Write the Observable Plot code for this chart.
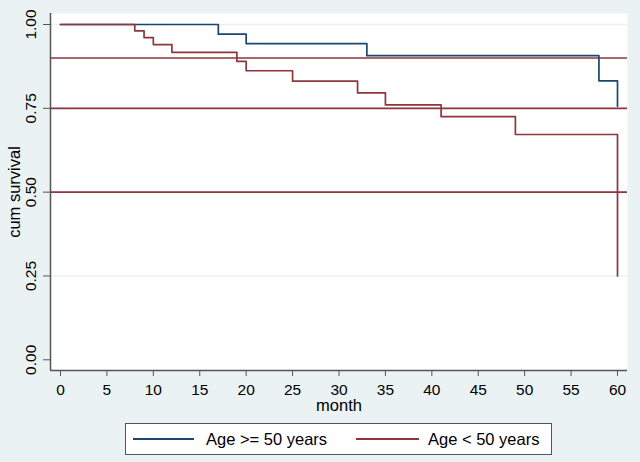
<!DOCTYPE html>
<html>
<head>
<meta charset="utf-8">
<script src="https://cdn.jsdelivr.net/npm/d3@7"></script>
<script src="https://cdn.jsdelivr.net/npm/@observablehq/plot@0.6"></script>
<style>
  html, body { margin: 0; padding: 0; background: #eaf2f3; }
  #fig { position: relative; width: 640px; height: 462px; background: #eaf2f3; font-family: "Liberation Sans", Arial, sans-serif; }
  #legend { position: absolute; left: 125px; top: 423px; width: 425px; height: 30px; background: #fff; border: 1px solid #555; }
  .sw { position: absolute; top: 14px; height: 2px; }
  .lt { position: absolute; top: 5px; font-size: 16.5px; line-height: 20px; color: #000; white-space: nowrap; }
</style>
</head>
<body>
<div id="fig">
  <div id="chart"></div>
  <div id="legend"></div>
</div>
<script>
// Data
const oldMonths = [0, 17, 20, 33, 58, 60];
const oldSurvival = [1.0, 0.971, 0.943, 0.907, 0.832, 0.756];
const youngMonths = [0, 8, 9, 10, 12, 19, 20, 25, 32, 35, 41, 49, 60];
const youngSurvival = [1.0, 0.981, 0.961, 0.940, 0.917, 0.890, 0.862, 0.831, 0.796, 0.760, 0.725, 0.672, 0.25];
const seriesNames = ["Age >= 50 years", "Age < 50 years"];
const seriesColors = ["#1a476f", "#90353b"];
const refLines = [0.9, 0.75, 0.5];
const xTicks = [0, 5, 10, 15, 20, 25, 30, 35, 40, 45, 50, 55, 60];
const yTicks = [0, 0.25, 0.5, 0.75, 1];
const gridLines = [0.25, 0.5, 0.75, 1];

const oldData = oldMonths.map((t, i) => ({t, s: oldSurvival[i]}));
const youngData = youngMonths.map((t, i) => ({t, s: youngSurvival[i]}));

const chart = Plot.plot({
  width: 640,
  height: 416,
  marginLeft: 50,
  marginRight: 13,
  marginTop: 13,
  marginBottom: 46,
  style: {fontFamily: "Liberation Sans, Arial, sans-serif", background: "transparent"},
  x: {domain: [0, 60], inset: 10},
  y: {domain: [0, 1], insetTop: 11, insetBottom: 10.7},
  marks: [
    Plot.frame({fill: "white", stroke: null}),
    Plot.ruleY(gridLines, {stroke: "#eaf2f3", strokeWidth: 1.5}),
    Plot.ruleY(refLines, {stroke: seriesColors[1], strokeWidth: 1.6}),
    Plot.line(oldData, {x: "t", y: "s", curve: "step-after", stroke: seriesColors[0], strokeWidth: 1.7}),
    Plot.line(youngData, {x: "t", y: "s", curve: "step-after", stroke: seriesColors[1], strokeWidth: 1.7}),
    Plot.ruleX([0], {dx: -10, stroke: "#555", strokeWidth: 1.5}),
    Plot.ruleY([0], {dy: 10.7, stroke: "#555", strokeWidth: 1.5}),
    Plot.axisX({ticks: xTicks, tickSize: 6, tickPadding: 7, fontSize: 15.5, stroke: "#555", fill: "black", label: null}),
    Plot.axisY({ticks: yTicks, tickSize: 7, tickFormat: () => "", stroke: "#555", label: null}),
    Plot.text(yTicks, {y: d => d, text: d => d.toFixed(2), frameAnchor: "left", dx: -19, rotate: -90, fontSize: 15.5, textAnchor: "middle", lineAnchor: "middle", fill: "black"}),
    Plot.text(["cum survival"], {text: d => d, frameAnchor: "left", dx: -36, rotate: -90, fontSize: 16.5, textAnchor: "middle", lineAnchor: "middle", fill: "black"}),
    Plot.text(["month"], {text: d => d, frameAnchor: "bottom", dy: 35, fontSize: 16.5, textAnchor: "middle", lineAnchor: "middle", fill: "black"})
  ]
});
document.getElementById("chart").appendChild(chart);

const legend = document.getElementById("legend");
const swLeft = [7, 230];
const swWidth = [61, 63];
const txtLeft = [80, 302];
seriesNames.forEach((name, i) => {
  const sw = document.createElement("div");
  sw.className = "sw";
  sw.style.left = swLeft[i] + "px";
  sw.style.width = swWidth[i] + "px";
  sw.style.background = seriesColors[i];
  legend.appendChild(sw);
  const tx = document.createElement("div");
  tx.className = "lt";
  tx.style.left = txtLeft[i] + "px";
  tx.textContent = name;
  legend.appendChild(tx);
});
</script>
</body>
</html>
